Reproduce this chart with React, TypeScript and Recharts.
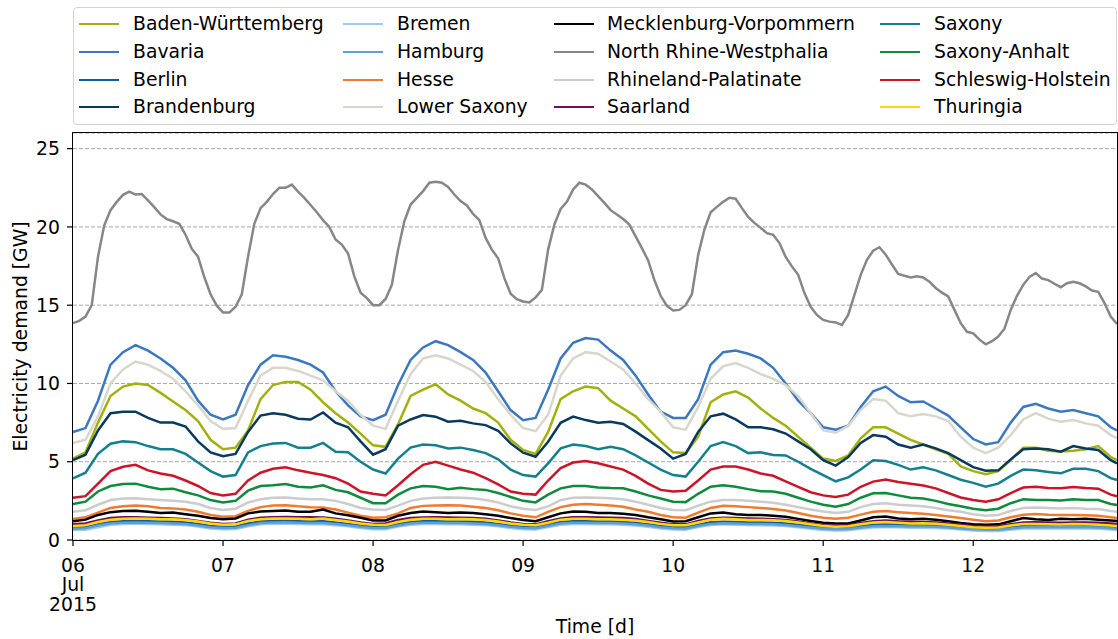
import React from 'react';
import { LineChart, Line, XAxis, YAxis, CartesianGrid } from 'recharts';

// North Rhine-Westphalia, hourly (h = 0..167)
const nrw = [
  13.85, 14.0, 14.27, 15.0, 18.1, 20.1, 21.07, 21.6, 22.05, 22.26, 22.07, 22.1, 21.7, 21.26, 20.8, 20.5, 20.36, 20.2, 19.5, 18.6, 18.1, 16.8, 15.7, 14.97,
  14.53, 14.53, 14.9, 15.7, 18.1, 20.2, 21.2, 21.6, 22.1, 22.5, 22.5, 22.7, 22.26, 21.86, 21.4, 20.94, 20.43, 20.0, 19.2, 18.87, 18.3, 16.84, 15.8, 15.45,
  15.0, 15.0, 15.4, 16.3, 18.55, 20.36, 21.43, 21.86, 22.29, 22.82, 22.88, 22.82, 22.56, 22.07, 21.65, 21.37, 20.83, 20.43, 19.3, 18.55, 18.0, 16.73, 15.73, 15.38,
  15.24, 15.17, 15.5, 15.98, 18.55, 20.15, 21.15, 21.6, 22.4, 22.82, 22.7, 22.4, 21.97, 21.54, 21.07, 20.8, 20.5, 20.15, 19.4, 18.65, 17.86, 16.6, 15.6, 14.96,
  14.66, 14.7, 15.0, 15.7, 18.2, 19.83, 20.94, 21.28, 21.6, 21.86, 21.8, 21.2, 20.64, 20.26, 19.94, 19.6, 19.5, 18.97, 18.08, 17.48, 16.94, 15.77, 14.9, 14.38,
  14.06, 13.95, 13.9, 13.74, 14.38, 15.66, 16.94, 17.9, 18.48, 18.7, 18.23, 17.6, 17.0, 16.88, 16.77, 16.84, 16.77, 16.5, 16.1, 15.8, 15.56, 14.7, 13.85, 13.3,
  13.2, 12.8, 12.5, 12.7, 13.0, 13.5, 14.7, 15.6, 16.3, 16.8, 17.05, 16.7, 16.6, 16.37, 16.15, 16.4, 16.5, 16.4, 16.2, 15.94, 15.85, 15.13, 14.27, 13.8,
];

// Other states, every 2 hours (h = 0, 2, ..., 166) plus the last hour (h = 167)
const badenWuerttemberg = [
  5.2, 5.6, 7.5, 9.2, 9.8, 10.0, 9.9, 9.4, 8.85, 8.3, 7.6, 6.4,
  5.8, 5.9, 7.0, 9.0, 9.9, 10.1, 10.1, 9.6, 8.8, 8.1, 7.5, 6.8,
  6.05, 5.95, 7.4, 9.2, 9.6, 9.95, 9.3, 8.9, 8.4, 8.1, 7.5, 6.4,
  5.75, 5.5, 6.9, 9.0, 9.5, 9.8, 9.7, 8.9, 8.4, 7.9, 7.1, 6.3,
  5.6, 5.55, 6.6, 8.8, 9.3, 9.5, 9.1, 8.4, 7.8, 7.3, 6.6, 5.9,
  5.2, 5.05, 5.4, 6.5, 7.2, 7.2, 6.8, 6.4, 6.1, 5.8, 5.5, 4.7,
  4.4, 4.2, 4.4, 5.1, 5.9, 5.9, 5.7, 5.65, 5.7, 5.8, 6.0, 5.3, 5.1,
];
const bavaria = [
  6.9, 7.15, 8.9, 11.2, 12.0, 12.45, 12.1, 11.6, 11.0, 10.2, 8.9, 8.0,
  7.7, 8.0, 9.9, 11.2, 11.8, 11.7, 11.5, 11.2, 10.7, 9.5, 8.6, 7.9,
  7.65, 8.0, 9.9, 11.5, 12.3, 12.7, 12.45, 12.0, 11.5, 10.7, 9.5, 8.3,
  7.65, 7.8, 9.6, 11.6, 12.6, 12.9, 12.8, 12.1, 11.5, 10.5, 9.3, 8.2,
  7.8, 7.8, 9.0, 11.2, 12.0, 12.1, 11.9, 11.6, 11.0, 10.0, 8.9, 8.1,
  7.2, 7.05, 7.3, 8.5, 9.5, 9.8, 9.2, 8.8, 8.85, 8.4, 7.95, 7.2,
  6.45, 6.1, 6.25, 7.5, 8.5, 8.7, 8.4, 8.2, 8.3, 8.1, 7.9, 7.2, 7.0,
];
const berlin = [
  0.8, 0.82, 1.0, 1.15, 1.2, 1.22, 1.2, 1.18, 1.17, 1.12, 1.02, 0.9,
  0.85, 0.87, 1.05, 1.18, 1.22, 1.23, 1.2, 1.18, 1.2, 1.12, 1.03, 0.92,
  0.85, 0.85, 1.02, 1.15, 1.2, 1.2, 1.18, 1.18, 1.17, 1.12, 1.03, 0.92,
  0.85, 0.83, 1.0, 1.15, 1.2, 1.2, 1.18, 1.18, 1.15, 1.1, 1.0, 0.9,
  0.83, 0.82, 0.98, 1.13, 1.17, 1.15, 1.12, 1.12, 1.1, 1.05, 0.97, 0.88,
  0.8, 0.76, 0.78, 0.88, 0.97, 1.0, 0.98, 0.95, 0.95, 0.93, 0.88, 0.82,
  0.75, 0.72, 0.73, 0.82, 0.9, 0.92, 0.9, 0.9, 0.92, 0.9, 0.88, 0.82, 0.8,
];
const brandenburg = [
  5.1, 5.45, 7.0, 8.1, 8.2, 8.2, 7.8, 7.5, 7.5, 7.25, 6.3, 5.6,
  5.35, 5.5, 6.9, 7.95, 8.1, 8.0, 7.75, 7.7, 8.15, 7.5, 7.2, 6.3,
  5.45, 5.8, 7.3, 7.7, 7.98, 7.88, 7.56, 7.62, 7.45, 7.34, 6.98, 6.17,
  5.58, 5.32, 6.28, 7.49, 7.88, 7.66, 7.49, 7.56, 7.41, 6.92, 6.38, 5.85,
  5.2, 5.5, 6.9, 7.9, 8.07, 7.7, 7.2, 7.2, 7.07, 6.8, 6.3, 5.8,
  5.1, 4.75, 5.3, 6.2, 6.7, 6.6, 6.1, 5.9, 6.1, 5.85, 5.55, 5.1,
  4.65, 4.43, 4.45, 5.15, 5.8, 5.85, 5.79, 5.64, 6.0, 5.85, 5.75, 5.1, 4.9,
];
const bremen = [
  0.64, 0.66, 0.82, 0.98, 1.02, 1.05, 1.03, 1.0, 0.98, 0.95, 0.86, 0.74,
  0.69, 0.7, 0.88, 1.0, 1.04, 1.05, 1.02, 1.0, 1.0, 0.95, 0.87, 0.76,
  0.69, 0.69, 0.86, 0.98, 1.02, 1.02, 1.0, 1.0, 0.98, 0.95, 0.87, 0.76,
  0.69, 0.67, 0.83, 0.98, 1.02, 1.02, 1.0, 1.0, 0.97, 0.93, 0.85, 0.74,
  0.67, 0.66, 0.83, 0.96, 1.0, 0.98, 0.96, 0.95, 0.93, 0.89, 0.81, 0.72,
  0.64, 0.6, 0.62, 0.72, 0.8, 0.83, 0.81, 0.79, 0.79, 0.77, 0.73, 0.67,
  0.6, 0.57, 0.58, 0.66, 0.74, 0.75, 0.74, 0.74, 0.75, 0.74, 0.72, 0.67, 0.64,
];
const hamburg = [
  0.72, 0.75, 0.92, 1.05, 1.1, 1.12, 1.1, 1.08, 1.06, 1.02, 0.93, 0.82,
  0.77, 0.78, 0.95, 1.08, 1.12, 1.13, 1.1, 1.08, 1.08, 1.02, 0.94, 0.84,
  0.77, 0.77, 0.93, 1.05, 1.1, 1.1, 1.08, 1.08, 1.06, 1.02, 0.94, 0.84,
  0.77, 0.75, 0.9, 1.05, 1.1, 1.1, 1.08, 1.08, 1.05, 1.0, 0.92, 0.82,
  0.75, 0.74, 0.9, 1.03, 1.07, 1.05, 1.03, 1.02, 1.0, 0.96, 0.88, 0.8,
  0.72, 0.68, 0.7, 0.8, 0.88, 0.9, 0.88, 0.86, 0.86, 0.84, 0.8, 0.74,
  0.68, 0.65, 0.66, 0.74, 0.82, 0.83, 0.82, 0.82, 0.83, 0.82, 0.8, 0.75, 0.72,
];
const hesse = [
  1.35, 1.45, 1.75, 2.05, 2.15, 2.2, 2.15, 2.05, 2.02, 1.95, 1.8, 1.6,
  1.48, 1.52, 1.85, 2.1, 2.2, 2.22, 2.15, 2.1, 2.08, 1.95, 1.75, 1.55,
  1.42, 1.45, 1.7, 2.05, 2.18, 2.2, 2.22, 2.2, 2.12, 2.05, 1.9, 1.7,
  1.55, 1.45, 1.8, 2.1, 2.25, 2.3, 2.25, 2.2, 2.12, 1.95, 1.8, 1.6,
  1.45, 1.42, 1.75, 2.05, 2.18, 2.15, 2.1, 2.05, 1.98, 1.88, 1.72, 1.55,
  1.42, 1.35, 1.42, 1.62, 1.8, 1.85, 1.78, 1.72, 1.68, 1.6, 1.5, 1.4,
  1.3, 1.2, 1.25, 1.45, 1.62, 1.66, 1.62, 1.6, 1.6, 1.58, 1.55, 1.45, 1.4,
];
const lowerSaxony = [
  6.2, 6.4, 7.9, 10.0, 10.9, 11.4, 11.2, 10.8, 10.3, 9.5, 8.6, 7.6,
  7.1, 7.15, 8.9, 10.5, 11.0, 11.0, 10.8, 10.5, 10.2, 9.5, 8.9, 8.0,
  7.3, 7.1, 8.9, 10.6, 11.6, 11.8, 11.6, 11.2, 10.8, 10.1, 9.0, 8.0,
  7.15, 6.95, 8.0, 10.5, 11.6, 12.0, 11.9, 11.4, 10.9, 10.0, 9.0, 8.2,
  7.2, 7.05, 8.5, 10.3, 11.1, 11.3, 11.0, 10.6, 10.3, 9.9, 9.2, 8.1,
  7.0, 6.85, 7.3, 8.3, 9.0, 8.9, 8.1, 7.9, 8.05, 7.9, 7.6, 6.6,
  5.9, 5.55, 5.9, 6.7, 7.7, 8.1, 7.75, 7.56, 7.66, 7.45, 7.3, 6.7, 6.5,
];
const mecklenburg = [
  1.2, 1.3, 1.6, 1.78, 1.85, 1.87, 1.8, 1.72, 1.75, 1.65, 1.55, 1.4,
  1.32, 1.38, 1.7, 1.82, 1.86, 1.88, 1.8, 1.8, 1.95, 1.7, 1.58, 1.42,
  1.25, 1.25, 1.55, 1.72, 1.82, 1.78, 1.72, 1.75, 1.72, 1.65, 1.55, 1.4,
  1.28, 1.2, 1.45, 1.7, 1.82, 1.8, 1.72, 1.72, 1.68, 1.6, 1.45, 1.32,
  1.18, 1.2, 1.45, 1.7, 1.75, 1.65, 1.6, 1.6, 1.55, 1.48, 1.35, 1.22,
  1.1, 1.05, 1.05, 1.25, 1.45, 1.5, 1.38, 1.32, 1.35, 1.3, 1.2, 1.08,
  1.0, 0.97, 1.0, 1.2, 1.4, 1.32, 1.28, 1.35, 1.32, 1.35, 1.3, 1.25, 1.22,
];
const rhinelandPalatinate = [
  1.8, 1.9, 2.25, 2.55, 2.65, 2.67, 2.6, 2.55, 2.5, 2.45, 2.3, 2.05,
  1.92, 2.0, 2.4, 2.6, 2.7, 2.72, 2.65, 2.6, 2.6, 2.5, 2.3, 2.05,
  1.95, 1.92, 2.2, 2.5, 2.65, 2.7, 2.72, 2.7, 2.66, 2.55, 2.4, 2.15,
  2.0, 1.92, 2.15, 2.55, 2.7, 2.72, 2.7, 2.66, 2.6, 2.45, 2.25, 2.05,
  1.92, 1.9, 2.2, 2.45, 2.55, 2.55, 2.5, 2.45, 2.38, 2.25, 2.1, 1.95,
  1.82, 1.72, 1.8, 2.1, 2.3, 2.35, 2.25, 2.2, 2.15, 2.05, 1.9, 1.8,
  1.65, 1.55, 1.6, 1.85, 2.05, 2.08, 2.05, 2.02, 2.05, 2.0, 1.98, 1.85, 1.8,
];
const saarland = [
  1.0, 1.05, 1.25, 1.4, 1.45, 1.45, 1.42, 1.4, 1.38, 1.32, 1.22, 1.1,
  1.02, 1.05, 1.3, 1.42, 1.46, 1.47, 1.45, 1.45, 1.44, 1.35, 1.25, 1.12,
  1.03, 1.05, 1.28, 1.4, 1.44, 1.45, 1.44, 1.42, 1.4, 1.35, 1.25, 1.12,
  1.03, 1.0, 1.2, 1.38, 1.45, 1.46, 1.44, 1.42, 1.4, 1.34, 1.22, 1.1,
  1.0, 1.0, 1.22, 1.38, 1.42, 1.4, 1.38, 1.36, 1.33, 1.28, 1.18, 1.05,
  0.95, 0.92, 0.95, 1.08, 1.2, 1.25, 1.2, 1.17, 1.15, 1.12, 1.05, 0.97,
  0.9, 0.86, 0.88, 1.0, 1.12, 1.13, 1.12, 1.1, 1.12, 1.12, 1.1, 1.05, 1.02,
];
const saxony = [
  3.94, 4.3, 5.5, 6.15, 6.3, 6.25, 6.0, 5.8, 5.8, 5.5, 4.95, 4.4,
  4.05, 4.15, 5.6, 6.0, 6.17, 6.2, 5.9, 5.9, 6.2, 5.64, 5.6, 5.0,
  4.5, 4.25, 5.2, 5.9, 6.1, 6.05, 5.85, 5.9, 5.75, 5.55, 5.15, 4.5,
  4.15, 4.05, 4.9, 5.85, 6.1, 6.0, 5.8, 5.95, 5.8, 5.4, 4.95, 4.5,
  4.15, 4.05, 5.0, 6.0, 6.25, 6.0, 5.55, 5.6, 5.43, 5.4, 5.0, 4.55,
  4.15, 3.75, 4.0, 4.5, 5.1, 5.05, 4.8, 4.5, 4.65, 4.45, 4.15, 3.85,
  3.65, 3.4, 3.6, 4.1, 4.5, 4.45, 4.35, 4.26, 4.55, 4.55, 4.4, 3.95, 3.83,
];
const saxonyAnhalt = [
  2.3, 2.45, 3.1, 3.45, 3.58, 3.6, 3.4, 3.25, 3.28, 3.05, 2.85, 2.55,
  2.4, 2.5, 3.15, 3.45, 3.5, 3.58, 3.4, 3.36, 3.5, 3.2, 3.05, 2.7,
  2.35, 2.35, 2.9, 3.3, 3.45, 3.4, 3.25, 3.33, 3.25, 3.2, 3.0, 2.75,
  2.5, 2.4, 2.9, 3.3, 3.45, 3.45, 3.36, 3.32, 3.3, 3.1, 2.85, 2.65,
  2.45, 2.42, 2.95, 3.4, 3.5, 3.4, 3.25, 3.12, 3.1, 2.95, 2.7, 2.45,
  2.25, 2.12, 2.3, 2.7, 2.98, 3.0, 2.85, 2.7, 2.65, 2.5, 2.3, 2.15,
  2.0, 1.9, 2.0, 2.35, 2.6, 2.55, 2.55, 2.52, 2.6, 2.55, 2.55, 2.3, 2.23,
];
const schleswigHolstein = [
  2.7, 2.8, 3.6, 4.4, 4.68, 4.8, 4.45, 4.25, 4.1, 3.8, 3.45, 3.0,
  2.85, 2.95, 3.8, 4.3, 4.55, 4.65, 4.45, 4.3, 4.15, 3.95, 3.6, 3.1,
  2.95, 2.85, 3.5, 4.2, 4.8, 5.0, 4.75, 4.5, 4.3, 3.95, 3.55, 3.1,
  2.95, 2.9, 3.8, 4.6, 4.95, 5.05, 4.9, 4.7, 4.5, 4.1, 3.6, 3.2,
  3.1, 3.15, 3.8, 4.5, 4.7, 4.7, 4.5, 4.25, 4.1, 3.75, 3.4, 3.05,
  2.85, 2.75, 2.9, 3.4, 3.73, 3.87, 3.7, 3.6, 3.48, 3.3, 3.0, 2.72,
  2.55, 2.45, 2.6, 3.0, 3.35, 3.4, 3.32, 3.3, 3.38, 3.32, 3.28, 2.9, 2.8,
];
const thuringia = [
  0.9, 0.95, 1.15, 1.3, 1.35, 1.38, 1.35, 1.32, 1.32, 1.28, 1.18, 1.05,
  0.98, 1.0, 1.22, 1.33, 1.37, 1.38, 1.35, 1.33, 1.38, 1.28, 1.18, 1.05,
  0.97, 0.96, 1.15, 1.3, 1.36, 1.35, 1.33, 1.34, 1.32, 1.28, 1.18, 1.05,
  0.97, 0.94, 1.1, 1.3, 1.36, 1.36, 1.33, 1.33, 1.3, 1.25, 1.15, 1.03,
  0.95, 0.94, 1.12, 1.3, 1.35, 1.32, 1.28, 1.28, 1.26, 1.22, 1.12, 1.0,
  0.9, 0.85, 0.88, 1.0, 1.12, 1.15, 1.1, 1.06, 1.07, 1.04, 0.97, 0.9,
  0.82, 0.78, 0.8, 0.92, 1.03, 1.02, 1.0, 0.99, 1.02, 1.0, 0.98, 0.92, 0.9,
];

const states = [
  'Baden-Württemberg', 'Bavaria', 'Berlin', 'Brandenburg',
  'Bremen', 'Hamburg', 'Hesse', 'Lower Saxony',
  'Mecklenburg-Vorpommern', 'North Rhine-Westphalia', 'Rhineland-Palatinate', 'Saarland',
  'Saxony', 'Saxony-Anhalt', 'Schleswig-Holstein', 'Thuringia',
];
const colors = [
  '#a3b10f', '#3b78c1', '#0d5da6', '#083a5f',
  '#9dcaee', '#5f9fd5', '#ee7b30', '#d9d7cc',
  '#000000', '#878787', '#cccccc', '#6e0e5f',
  '#14808f', '#108a3c', '#cc1529', '#ffd800',
];
const seriesValues: number[][] = [
  badenWuerttemberg, bavaria, berlin, brandenburg,
  bremen, hamburg, hesse, lowerSaxony,
  mecklenburg, nrw, rhinelandPalatinate, saarland,
  saxony, saxonyAnhalt, schleswigHolstein, thuringia,
];

const xTickValues = [0, 24, 48, 72, 96, 120, 144];
const xTickLabels = [['06', 'Jul', '2015'], ['07'], ['08'], ['09'], ['10'], ['11'], ['12']];
const yTickValues = [0, 5, 10, 15, 20, 25];

const HOURS = 168;
const rows: any[] = [];
for (let h = 0; h < HOURS; h++) {
  const row: any = { h };
  seriesValues.forEach((arr, i) => {
    const key = 's' + i;
    if (arr.length === HOURS) row[key] = arr[h];
    else if (h === HOURS - 1) row[key] = arr[arr.length - 1];
    else if (h % 2 === 0) row[key] = arr[h / 2];
  });
  rows.push(row);
}

const FONT = '"DejaVu Sans", Verdana, sans-serif';
const FS = 18.8;

const XTick = (props: any) => {
  const { x, y, payload } = props;
  const idx = xTickValues.indexOf(payload.value);
  const lines = idx >= 0 ? xTickLabels[idx] : [String(payload.value)];
  return (
    <text x={x} y={y} textAnchor="middle" fontSize={FS} fill="#000" fontFamily={FONT}>
      {lines.map((l, i) => (
        <tspan key={i} x={x} dy={i === 0 ? 23.5 : 19.5}>{l}</tspan>
      ))}
    </text>
  );
};

const legendCols = [
  { line: 79, text: 133 },
  { line: 343, text: 397 },
  { line: 554, text: 607 },
  { line: 880, text: 934 },
];
const legendRowY = [24, 52, 80, 107];

export default function App() {
  return (
    <div style={{ position: 'absolute', left: 0, top: 0, width: 1118, height: 639, background: '#fff', fontFamily: FONT }}>
      <LineChart width={1118} height={639} data={rows} margin={{ top: 133, right: 1, left: 0, bottom: 0 }}>
        <CartesianGrid vertical={false} stroke="#a8a8a8" strokeDasharray="4 2" strokeWidth={1} />
        <XAxis
          dataKey="h"
          type="number"
          domain={[0, 167]}
          ticks={xTickValues}
          height={99}
          tick={<XTick />}
          tickSize={6}
          tickLine={{ stroke: '#000', strokeWidth: 1.2 }}
          axisLine={false}
          interval={0}
          label={{ value: 'Time [d]', position: 'insideBottom', offset: 6, fontSize: FS, fill: '#000', fontFamily: FONT }}
        />
        <YAxis
          type="number"
          domain={[0, 26]}
          ticks={yTickValues}
          width={73}
          tickSize={6}
          tickMargin={7}
          interval={0}
          tick={{ fontSize: FS, fill: '#000', fontFamily: FONT }}
          tickLine={{ stroke: '#000', strokeWidth: 1.2 }}
          axisLine={false}
          label={{
            value: 'Electricity demand [GW]',
            angle: -90,
            position: 'insideLeft',
            offset: 20,
            style: { textAnchor: 'middle' },
            fontSize: FS,
            fill: '#000',
            fontFamily: FONT,
          }}
        />
        {states.map((name, i) => (
          <Line
            key={name}
            name={name}
            dataKey={'s' + i}
            type="linear"
            stroke={colors[i]}
            strokeWidth={2.5}
            dot={false}
            connectNulls
            isAnimationActive={false}
          />
        ))}
      </LineChart>
      <div
        style={{
          position: 'absolute',
          left: 72.4,
          top: 132.4,
          width: 1045.2,
          height: 408.2,
          boxSizing: 'border-box',
          border: '1.3px solid #000',
          pointerEvents: 'none',
        }}
      />
      <div
        style={{
          position: 'absolute',
          left: 73,
          top: 7,
          width: 1044,
          height: 118,
          boxSizing: 'border-box',
          border: '1.3px solid #d4d4d4',
          borderRadius: 4,
          background: 'rgba(255,255,255,0.8)',
        }}
      />
      {states.map((name, i) => {
        const col = legendCols[Math.floor(i / 4)];
        const cy = legendRowY[i % 4];
        return (
          <React.Fragment key={name}>
            <div
              style={{
                position: 'absolute',
                left: col.line,
                top: cy - 1.25,
                width: 40,
                height: 2.5,
                background: colors[i],
              }}
            />
            <div
              style={{
                position: 'absolute',
                left: col.text,
                top: cy - 12,
                height: 24,
                lineHeight: '24px',
                fontSize: FS,
                color: '#000',
                whiteSpace: 'nowrap',
                fontFamily: FONT,
              }}
            >
              {name}
            </div>
          </React.Fragment>
        );
      })}
    </div>
  );
}
